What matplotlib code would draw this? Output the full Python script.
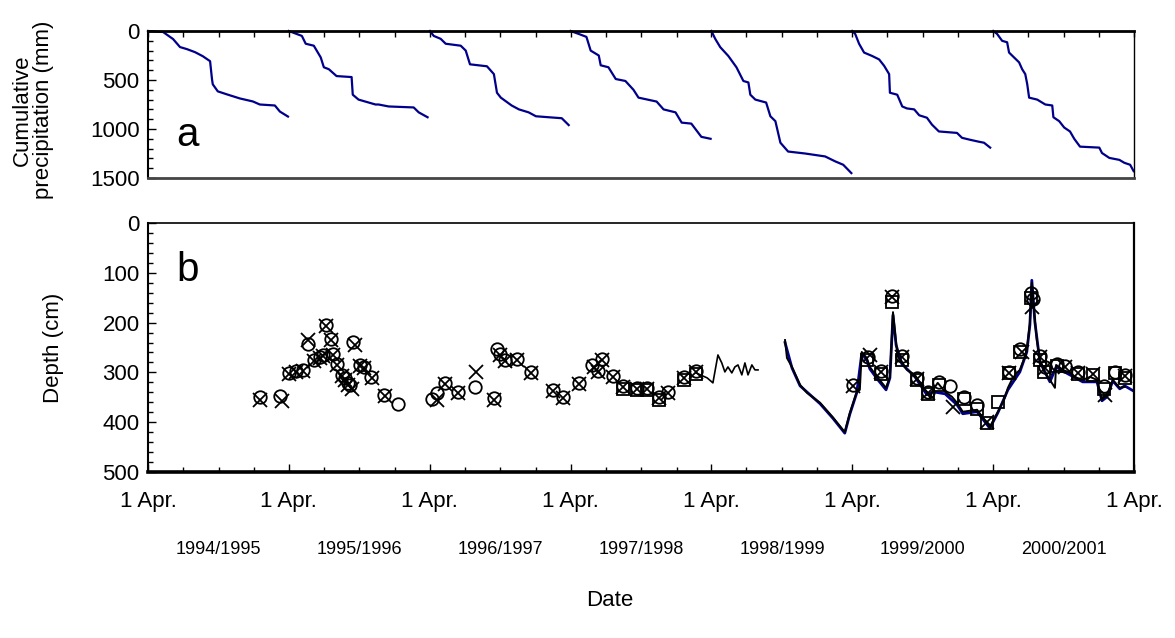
import numpy as np
import matplotlib
matplotlib.use('Agg')
import matplotlib.pyplot as plt
import matplotlib.dates as mdates
import matplotlib.transforms as mtransforms
from matplotlib.ticker import MultipleLocator, FuncFormatter

plt.rcParams['font.family'] = ['Liberation Sans', 'DejaVu Sans']

# hydrological seasons (1 April - 31 March)
seasons = ['1994/1995', '1995/1996', '1996/1997', '1997/1998',
           '1998/1999', '1999/2000', '2000/2001']
season_start = ['1994-04-01', '1995-04-01', '1996-04-01', '1997-04-01',
                '1998-04-01', '1999-04-01', '2000-04-01']

# cumulative precipitation: days after 1 April, mm
p94_day = [0, 39, 65, 83, 101, 122, 142, 161, 166, 168, 181, 205, 238, 272, 290, 329, 342, 363]
p94_mm = [0, 10, 82, 164, 185, 216, 257, 308, 493, 544, 616, 647, 688, 719, 750, 760, 822, 873]
p95_day = [0, 34, 44, 65, 83, 91, 104, 124, 163, 166, 181, 225, 233, 259, 324, 337, 360]
p95_mm = [0, 50, 130, 150, 270, 370, 390, 460, 470, 650, 700, 750, 750, 770, 780, 830, 880]
p96_day = [0, 10, 28, 41, 80, 93, 104, 148, 166, 174, 184, 212, 231, 256, 275, 308, 342, 360]
p96_mm = [0, 50, 80, 130, 150, 200, 340, 360, 440, 630, 680, 760, 800, 830, 870, 880, 890, 960]
p97_day = [0, 21, 41, 52, 73, 78, 98, 117, 142, 163, 176, 223, 241, 272, 288, 313, 339, 363]
p97_mm = [0, 30, 60, 200, 250, 350, 370, 490, 510, 600, 680, 720, 800, 830, 935, 945, 1080, 1100]
p98_day = [0, 10, 23, 44, 65, 83, 96, 101, 114, 142, 153, 166, 179, 199, 243, 295, 321, 342, 363]
p98_mm = [0, 80, 165, 255, 370, 510, 525, 650, 700, 730, 870, 920, 1140, 1230, 1250, 1280, 1330, 1365, 1450]
p99_day = [0, 8, 18, 31, 52, 70, 83, 96, 98, 117, 130, 142, 161, 174, 194, 207, 225, 272, 285, 306, 329, 342, 358]
p99_mm = [0, 30, 130, 220, 255, 290, 355, 440, 630, 650, 770, 790, 800, 860, 885, 955, 1025, 1040, 1090, 1110, 1130, 1140, 1190]
p00_day = [0, 10, 23, 36, 41, 54, 67, 75, 83, 88, 93, 114, 135, 153, 156, 171, 184, 199, 210, 225, 275, 282, 301, 327, 340, 355, 364]
p00_mm = [0, 30, 100, 115, 220, 270, 320, 390, 440, 540, 680, 700, 750, 760, 880, 920, 985, 1025, 1100, 1180, 1190, 1245, 1295, 1315, 1345, 1365, 1430]

rain_days = [p94_day, p95_day, p96_day, p97_day, p98_day, p99_day, p00_day]
rain_mm = [p94_mm, p95_mm, p96_mm, p97_mm, p98_mm, p99_mm, p00_mm]

# depth observations: days after 1 April 1994, cm
circ_day = [290, 342, 366, 384, 402, 415, 430, 446, 454, 462, 475, 480, 490, 503, 511, 519, 524, 532,
            550, 560, 578, 612, 648, 736, 749, 770, 804, 848, 897, 905, 913, 926, 957, 993, 1050,
            1076, 1118, 1151, 1167, 1177, 1206, 1232, 1268, 1294, 1325, 1348, 1390, 1421,
            1828, 1867, 1901, 1929, 1955, 1994, 2023, 2051, 2080, 2116, 2150, 2233, 2261, 2290,
            2295, 2313, 2326, 2357, 2378, 2411, 2479, 2507, 2533]
circ_depth = [349, 347, 301, 297, 295, 243, 275, 269, 265, 205, 233, 263, 283, 305, 311, 321, 325, 239,
              285, 289, 309, 345, 363, 353, 341, 321, 339, 329, 351, 253, 263, 275, 273, 299, 335,
              349, 321, 285, 297, 273, 307, 327, 331, 331, 349, 339, 309, 297,
              325, 269, 297, 147, 267, 311, 339, 319, 327, 349, 365, 299, 253, 141,
              152, 267, 289, 283, 287, 299, 327, 299, 305]

x_day = [290, 347, 366, 384, 402, 415, 430, 446, 454, 462, 475, 480, 490, 503, 511, 519, 529, 537,
         550, 560, 581, 615, 749, 770, 804, 850, 897, 913, 926, 957, 993, 1050, 1076, 1118,
         1156, 1167, 1177, 1206, 1232, 1268, 1294, 1325, 1348, 1390, 1421,
         1828, 1872, 1901, 1929, 1955, 1994, 2023, 2087, 2176, 2233, 2266, 2292, 2313, 2326,
         2378, 2411, 2450, 2482, 2533]
x_depth = [355, 357, 303, 299, 297, 235, 277, 271, 267, 207, 235, 265, 285, 307, 315, 325, 333, 245,
           287, 291, 311, 347, 355, 323, 341, 299, 355, 265, 277, 275, 301, 337, 351, 323,
           289, 299, 275, 309, 329, 333, 333, 351, 341, 311, 299,
           327, 265, 299, 149, 269, 313, 341, 369, 400, 301, 259, 169, 269, 291,
           289, 301, 303, 345, 307]

sq_day = [1232, 1268, 1294, 1325, 1390, 1421,
          1864, 1901, 1929, 1955, 1994, 2023, 2051, 2116, 2150, 2176, 2204, 2233, 2261, 2290,
          2313, 2323, 2357, 2411, 2450, 2479, 2507, 2533]
sq_depth = [333, 335, 335, 355, 315, 303,
            275, 303, 159, 275, 315, 343, 325, 353, 373, 402, 359, 301, 259, 151,
            275, 299, 287, 303, 305, 333, 301, 311]

# continuous record (black)
rec1_day = [1421, 1450, 1465, 1478, 1488, 1496, 1504, 1514, 1522, 1530, 1540, 1548, 1556, 1566, 1574, 1582]
rec1_depth = [301, 311, 321, 265, 281, 299, 289, 301, 289, 285, 305, 281, 305, 285, 295, 295]
rec2_day = [1652, 1657, 1670, 1691, 1709, 1743, 1776, 1807, 1820, 1838, 1846, 1851, 1864, 1872,
            1893, 1914, 1924, 1932, 1940, 1945, 1955, 1968, 1989, 2002, 2020, 2028, 2036, 2048,
            2067, 2085, 2098, 2113, 2150, 2176, 2183, 2204, 2222, 2230, 2240, 2253, 2261, 2269,
            2279, 2287, 2292, 2300, 2305, 2313, 2326, 2339, 2352, 2355, 2373, 2386, 2409, 2424,
            2443, 2461, 2474, 2487, 2502, 2520, 2533]
rec2_depth = [235, 271, 289, 325, 341, 361, 390, 420, 382, 339, 335, 259, 271, 289,
              311, 331, 309, 179, 241, 269, 279, 295, 305, 321, 339, 351, 335, 321,
              339, 349, 361, 379, 375, 402, 410, 379, 351, 331, 315, 301, 295, 279,
              255, 201, 120, 195, 235, 275, 301, 315, 331, 285, 295, 299, 311, 315,
              309, 315, 355, 345, 315, 331, 329]

# simulated (blue)
sim_day = [1652, 1670, 1691, 1743, 1776, 1807, 1820, 1838, 1851, 1864, 1872, 1893, 1914, 1924,
           1932, 1940, 1955, 1989, 2020, 2036, 2067, 2098, 2113, 2150, 2183, 2204, 2230, 2261,
           2279, 2287, 2292, 2300, 2313, 2339, 2355, 2386, 2424, 2461, 2474, 2487, 2502, 2520,
           2533, 2555]
sim_depth = [240, 291, 327, 363, 392, 422, 384, 341, 262, 275, 293, 315, 335, 311,
             185, 245, 283, 309, 345, 339, 343, 365, 383, 379, 412, 381, 335, 299,
             259, 205, 115, 199, 279, 319, 289, 303, 319, 319, 357, 349, 317, 333,
             327, 337]

base = np.datetime64('1994-04-01')


def to_date(days, start=base):
    return np.datetime64(start) + np.array(days).astype('timedelta64[D]')


NAVY = '#00008b'
fig = plt.figure(figsize=(11.75, 6.38), dpi=100)
ax1 = fig.add_axes([148 / 1175, 1 - 178 / 638, 986 / 1175, 147 / 638])
ax2 = fig.add_axes([148 / 1175, 1 - 472 / 638, 986 / 1175, 249 / 638])

# panel a
for start, d, mm in zip(season_start, rain_days, rain_mm):
    ax1.plot(to_date(d, start), mm, color=NAVY, lw=1.6, clip_on=False)

# panel b
ax2.plot(to_date(sim_day), sim_depth, color=NAVY, lw=2.0)
ax2.plot(to_date(rec1_day), rec1_depth, color='black', lw=1.2)
ax2.plot(to_date(rec2_day), rec2_depth, color='black', lw=1.4)
ax2.plot(to_date(sq_day), sq_depth, ls='none', marker='s', ms=8, mfc='none', mec='black', mew=1.3)
ax2.plot(to_date(circ_day), circ_depth, ls='none', marker='o', ms=9, mfc='none', mec='black', mew=1.3)
ax2.plot(to_date(x_day), x_depth, ls='none', marker='x', ms=10, mec='black', mew=1.3)

xmin, xmax = np.datetime64('1994-04-01'), np.datetime64('2001-04-01')
for ax in (ax1, ax2):
    ax.set_xlim(xmin, xmax)
    ax.xaxis.set_major_locator(mdates.MonthLocator(bymonth=4, bymonthday=1))
    ax.xaxis.set_minor_locator(mdates.MonthLocator(bymonth=[1, 7, 10], bymonthday=1))
    ax.tick_params(which='both', direction='in', colors='black', width=1.0)
    ax.tick_params(which='major', length=6, labelsize=16)
    ax.tick_params(which='minor', length=3.5)
    ax.tick_params(axis='y', which='both', right=False, pad=6)

ax1.set_ylim(1500, 0)
ax1.yaxis.set_major_locator(MultipleLocator(500))
ax1.yaxis.set_minor_locator(MultipleLocator(100))
ax1.tick_params(axis='x', which='both', bottom=False, top=True, labelbottom=False, length=4)
ax1.spines['top'].set_linewidth(2.0)
ax1.spines['bottom'].set_linewidth(2.0)
ax1.spines['bottom'].set_color('#444444')
ax1.spines['left'].set_linewidth(1.5)
ax1.spines['right'].set_linewidth(1.0)
ax1.text(0.04, 0.29, 'a', transform=ax1.transAxes, fontsize=29, ha='center', va='center')

ax2.set_ylim(500, 0)
ax2.yaxis.set_major_locator(MultipleLocator(100))
ax2.yaxis.set_minor_locator(MultipleLocator(20))
ax2.xaxis.set_major_formatter(FuncFormatter(lambda v, p: '1 Apr.'))
ax2.tick_params(axis='x', which='both', pad=14)
ax2.spines['top'].set_linewidth(1.2)
ax2.spines['bottom'].set_linewidth(2.6)
ax2.spines['left'].set_linewidth(1.5)
ax2.spines['right'].set_linewidth(1.6)
ax2.text(0.04, 0.81, 'b', transform=ax2.transAxes, fontsize=29, ha='center', va='center')

# season labels under the axis
trans = mtransforms.blended_transform_factory(ax2.transData, fig.transFigure)
for name, start in zip(seasons, season_start):
    mid = np.datetime64(start) + np.timedelta64(183, 'D')
    ax2.text(mid, 1 - 550 / 638, name, transform=trans, fontsize=13, ha='center', va='center')

fig.text(33 / 1175, 1 - 110 / 638, 'Cumulative\nprecipitation (mm)', rotation=90,
         fontsize=16, ha='center', va='center', multialignment='center', linespacing=1.0)
fig.text(53 / 1175, 1 - 348 / 638, 'Depth (cm)', rotation=90, fontsize=16, ha='center', va='center')
fig.text(610 / 1175, 1 - 600 / 638, 'Date', fontsize=16, ha='center', va='center')

fig.savefig('out.png', dpi=100)
